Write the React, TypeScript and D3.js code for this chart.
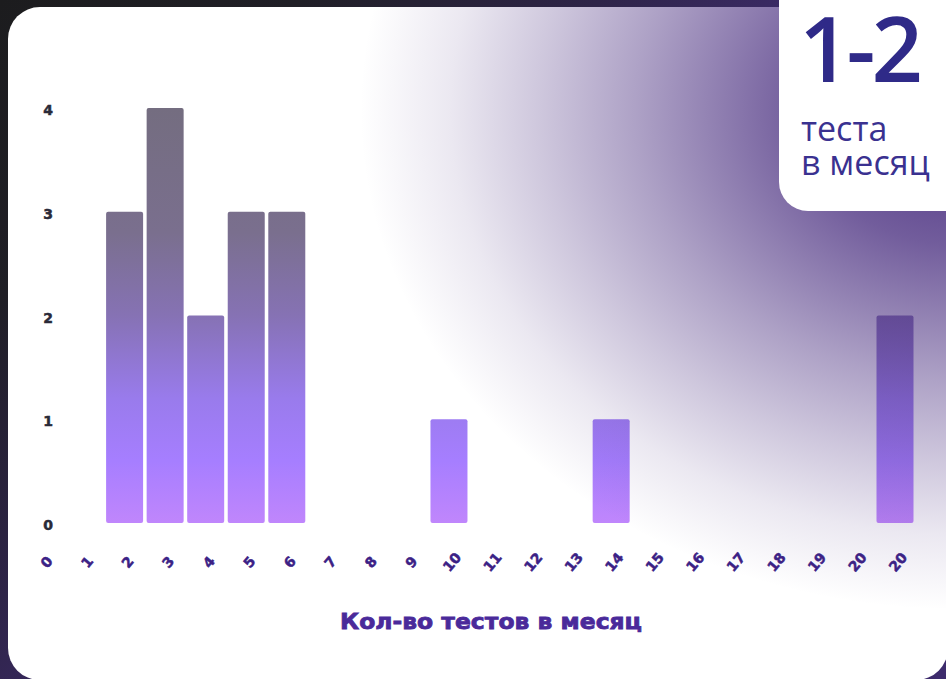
import React from "react";
import * as d3 from "d3";

const xLabels = ["0","1","2","3","4","5","6","7","8","9","10","11","12","13","14","15","16","17","18","19","20","20"];
const counts = [0,0,3,4,2,3,3,0,0,0,1,0,0,0,1,0,0,0,0,0,0,2];
const yTicks = [0,1,2,3,4];
const axisTitle = "Кол-во тестов в месяц";
const badgeValue = "1-2";
const badgeLines = ["теста", "в месяц"];

const W = 946;
const H = 679;

export default function App() {
  const idx = counts.map((_, i) => i);
  const x = d3.scaleBand<number>().domain(idx).range([25, 913.5]).paddingInner(0.0875).paddingOuter(0);
  const y = d3.scaleLinear().domain([0, 4]).range([523, 108]);
  const y0 = y(0);
  const y4 = y(4);

  return (
    <svg width={W} height={H} style={{ position: "fixed", left: 0, top: 0, display: "block" }}>
      <defs>
        <linearGradient id="outer" x1="0" y1="0" x2="500" y2="500" gradientUnits="userSpaceOnUse">
          <stop offset="0" stopColor="#1c1c1e" />
          <stop offset="0.3" stopColor="#201f26" />
          <stop offset="0.6" stopColor="#2e2448" />
          <stop offset="0.8" stopColor="#3b2a66" />
          <stop offset="1" stopColor="#3d2b6c" />
        </linearGradient>
        <radialGradient
          id="glow"
          cx="0"
          cy="0"
          r="1"
          gradientUnits="userSpaceOnUse"
          gradientTransform="translate(960,110) scale(600,500)"
        >
          <stop offset="0" stopColor="#4a2f80" stopOpacity={0.95} />
          <stop offset="0.15" stopColor="#4a2f80" stopOpacity={0.88} />
          <stop offset="0.27" stopColor="#4a2f80" stopOpacity={0.78} />
          <stop offset="0.4" stopColor="#4a2f80" stopOpacity={0.62} />
          <stop offset="0.54" stopColor="#4a2f80" stopOpacity={0.45} />
          <stop offset="0.7" stopColor="#4a2f80" stopOpacity={0.27} />
          <stop offset="0.85" stopColor="#4a2f80" stopOpacity={0.11} />
          <stop offset="1" stopColor="#4a2f80" stopOpacity={0} />
        </radialGradient>
        <linearGradient id="bar" x1="0" y1={y4} x2="0" y2={y0} gradientUnits="userSpaceOnUse">
          <stop offset="0" stopColor="#746d80" />
          <stop offset="0.3" stopColor="#7a6f8e" />
          <stop offset="0.5" stopColor="#8672b4" />
          <stop offset="0.7" stopColor="#997bec" />
          <stop offset="0.85" stopColor="#a67eff" />
          <stop offset="1" stopColor="#c086fc" />
        </linearGradient>
      </defs>

      <rect x={0} y={0} width={W} height={H} fill="url(#outer)" />
      <rect x={8} y={7} width={940} height={673} rx={32} ry={32} fill="#ffffff" />

      {counts.map((v, i) =>
        v > 0 ? (
          <rect
            key={i}
            x={x(i)}
            y={y(v)}
            width={x.bandwidth()}
            height={y(0) - y(v)}
            rx={2}
            fill="url(#bar)"
          />
        ) : null
      )}

      {yTicks.map((t) => (
        <text
          key={t}
          x={48}
          y={y(t) + 2}
          textAnchor="middle"
          dominantBaseline="central"
          fontFamily="'DejaVu Sans', sans-serif"
          fontWeight={700}
          fontSize={14}
          fill="#2a2a38"
          stroke="#2a2a38"
          strokeWidth={0.5}
        >
          {t}
        </text>
      ))}

      {xLabels.map((lab, i) => {
        const cx = (x(i) as number) + x.bandwidth() / 2 + 3;
        const cy = 562;
        return (
          <text
            key={i}
            x={cx}
            y={cy}
            textAnchor="middle"
            dominantBaseline="central"
            transform={`rotate(-50, ${cx}, ${cy})`}
            fontFamily="'DejaVu Sans', sans-serif"
            fontWeight={700}
            fontSize={14}
            fill="#3b2185"
            stroke="#3b2185"
            strokeWidth={0.5}
          >
            {lab}
          </text>
        );
      })}

      <text
        x={491}
        y={629}
        textAnchor="middle"
        fontFamily="'DejaVu Sans', sans-serif"
        fontWeight={700}
        fontSize={22}
        fill="#4a2a9a"
        stroke="#4a2a9a"
        strokeWidth={0.8}
        textLength={302}
        lengthAdjust="spacingAndGlyphs"
      >
        {axisTitle}
      </text>

      <rect x={8} y={7} width={940} height={673} rx={32} ry={32} fill="url(#glow)" />

      <path d="M779,0 H946 V211 H808 A29,29 0 0 1 779,182 Z" fill="#ffffff" />
      <text
        x={799}
        y={82}
        fontFamily="'Open Sans', sans-serif"
        fontWeight={600}
        fontSize={90}
        letterSpacing={-4}
        fill="#2f2a88"
      >
        {badgeValue}
      </text>
      {badgeLines.map((line, i) => (
        <text
          key={i}
          x={801}
          y={141 + i * 34}
          fontFamily="'Open Sans', sans-serif"
          fontWeight={500}
          fontSize={34}
          fill="#3a3190"
        >
          {line}
        </text>
      ))}
    </svg>
  );
}
